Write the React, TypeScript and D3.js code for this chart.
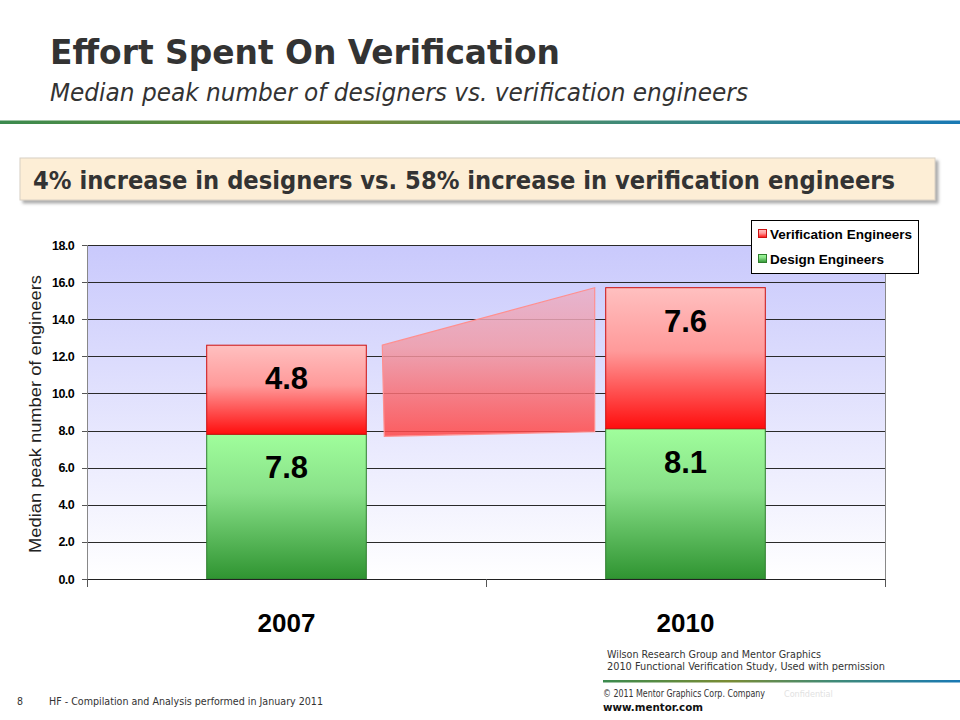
import React from "react";
import * as d3 from "d3";

const years = ["2007", "2010"];
const designEngineers = [7.8, 8.1];
const verificationEngineers = [4.8, 7.6];
const seriesNames = ["Design Engineers", "Verification Engineers"];
const legendOrder = ["Verification Engineers", "Design Engineers"];
const yTickValues = [0, 2, 4, 6, 8, 10, 12, 14, 16, 18];

const W = 960;
const H = 720;
const plot = { left: 87, right: 885, top: 245, bottom: 579 };

export default function App() {
  const x = d3.scaleBand<string>().domain(years).range([plot.left, plot.right]).paddingInner(0).paddingOuter(0);
  const y = d3.scaleLinear().domain([0, 18]).range([plot.bottom, plot.top]);
  const bw = x.bandwidth() * 0.4;
  const barX = (yr: string) => (x(yr) as number) + x.bandwidth() * 0.3;

  const table = years.map((yr, i) => ({
    year: yr,
    "Design Engineers": designEngineers[i],
    "Verification Engineers": verificationEngineers[i],
  }));
  const stacked = d3.stack<any>().keys(seriesNames)(table);

  const fillFor: Record<string, string> = {
    "Design Engineers": "url(#gGreen)",
    "Verification Engineers": "url(#gRed)",
  };
  const strokeFor: Record<string, string> = {
    "Design Engineers": "#2e7d2e",
    "Verification Engineers": "#cc1111",
  };

  // connector shape between bar totals
  const tot = years.map((_, i) => designEngineers[i] + verificationEngineers[i]);
  const ax0 = barX(years[0]) + bw + 16;
  const ax1 = barX(years[1]) - 11;
  const arrowPts: [number, number][] = [
    [ax0, y(tot[0])],
    [ax1, y(tot[1])],
    [ax1, y(designEngineers[1]) + 3],
    [ax0 + 2, y(designEngineers[0]) + 2],
  ];
  const arrowPath = d3.line()(arrowPts)! + "Z";

  const tickFont = "'Liberation Sans', Arial, sans-serif";
  const condFont = "'DejaVu Sans Condensed','DejaVu Sans',sans-serif";

  return (
    <svg width={W} height={H} style={{ position: "absolute", left: 0, top: 0, background: "#fff" }}>
      <defs>
        <linearGradient id="gSep" x1="0" x2="1" y1="0" y2="0">
          <stop offset="0" stopColor="#3b8a4e" />
          <stop offset="0.35" stopColor="#7a8c34" />
          <stop offset="0.65" stopColor="#3f8a78" />
          <stop offset="1" stopColor="#1979b4" />
        </linearGradient>
        <linearGradient id="gPlot" x1="0" x2="0" y1="0" y2="1">
          <stop offset="0" stopColor="#c9c9fc" />
          <stop offset="1" stopColor="#ffffff" />
        </linearGradient>
        <linearGradient id="gRed" x1="0" x2="0" y1="0" y2="1">
          <stop offset="0" stopColor="#ffc0c0" />
          <stop offset="0.45" stopColor="#ff9a9a" />
          <stop offset="1" stopColor="#ff0d0d" />
        </linearGradient>
        <linearGradient id="gGreen" x1="0" x2="0" y1="0" y2="1">
          <stop offset="0" stopColor="#a0fe9c" />
          <stop offset="0.4" stopColor="#88e088" />
          <stop offset="1" stopColor="#2f9431" />
        </linearGradient>
        <linearGradient id="gArrow" x1="0" x2="0" y1="0" y2="1">
          <stop offset="0" stopColor="#eab0c8" />
          <stop offset="0.4" stopColor="#f09aa6" />
          <stop offset="1" stopColor="#ff4444" />
        </linearGradient>
        <filter id="shadow" x="-5%" y="-20%" width="110%" height="150%">
          <feDropShadow dx="3" dy="3" stdDeviation="1.5" floodColor="#888" floodOpacity="0.7" />
        </filter>
      </defs>

      {/* Header */}
      <text x={50} y={64} fontFamily={condFont} fontWeight="bold" fontSize={34} fill="#333" textLength={510} lengthAdjust="spacingAndGlyphs">
        Effort Spent On Verification
      </text>
      <text x={50} y={101} fontFamily={condFont} fontStyle="italic" fontSize={25} fill="#333" textLength={698} lengthAdjust="spacingAndGlyphs">
        Median peak number of designers vs. verification engineers
      </text>
      <rect x={0} y={120.5} width={W} height={3.5} fill="url(#gSep)" />

      {/* Callout */}
      <rect x={20} y={158} width={915} height={42} fill="#fdeed6" stroke="#d8d0c4" strokeWidth={1} filter="url(#shadow)" />
      <text x={33} y={189} fontFamily={condFont} fontWeight="bold" fontSize={24} fill="#333" textLength={862} lengthAdjust="spacingAndGlyphs">
        4% increase in designers vs. 58% increase in verification engineers
      </text>

      {/* Plot background */}
      <rect x={plot.left} y={plot.top} width={plot.right - plot.left} height={plot.bottom - plot.top} fill="url(#gPlot)" />
      {yTickValues.filter((v) => v > 0).map((v) => (
        <line key={"g" + v} x1={plot.left} x2={plot.right} y1={Math.round(y(v)) + 0.5} y2={Math.round(y(v)) + 0.5} stroke="#2a2a2a" strokeWidth={1} />
      ))}
      <line x1={plot.right + 0.5} x2={plot.right + 0.5} y1={plot.top} y2={plot.bottom} stroke="#888" />

      {/* y axis */}
      <line x1={plot.left + 0.5} x2={plot.left + 0.5} y1={plot.top} y2={plot.bottom + 8} stroke="#888" />
      {yTickValues.map((v) => (
        <g key={"t" + v}>
          <line x1={plot.left - 5} x2={plot.left} y1={Math.round(y(v)) + 0.5} y2={Math.round(y(v)) + 0.5} stroke="#555" />
          <text x={74} y={y(v) + 4.5} textAnchor="end" fontFamily={tickFont} fontWeight="bold" fontSize={12.5} letterSpacing={-0.6} fill="#000">
            {d3.format(".1f")(v)}
          </text>
        </g>
      ))}
      <text transform={`translate(41, ${(plot.top + plot.bottom) / 2 + 2}) rotate(-90)`} textAnchor="middle" fontFamily={tickFont} fontSize={16} fill="#222" textLength={278} lengthAdjust="spacingAndGlyphs">
        Median peak number of engineers
      </text>

      {/* connector */}
      <path d={arrowPath} fill="url(#gArrow)" fillOpacity={0.85} stroke="#ff8f8f" strokeWidth={1.2} />

      {/* bars */}
      {stacked.map((s) =>
        s.map((d, i) => (
          <rect
            key={s.key + i}
            x={barX(years[i])}
            y={y(d[1])}
            width={bw}
            height={y(d[0]) - y(d[1])}
            fill={fillFor[s.key]}
            stroke={strokeFor[s.key]}
            strokeWidth={1}
          />
        ))
      )}
      {/* x axis */}
      <line x1={plot.left} x2={plot.right + 1} y1={plot.bottom + 0.5} y2={plot.bottom + 0.5} stroke="#222" />
      {[plot.left, ...years.slice(1).map((yr) => x(yr) as number), plot.right].map((px, i) => (
        <line key={"xt" + i} x1={px + 0.5} x2={px + 0.5} y1={plot.bottom} y2={plot.bottom + 8} stroke="#555" />
      ))}
      {stacked.map((s) =>
        s.map((d, i) => (
          <text key={"l" + s.key + i} x={barX(years[i]) + bw / 2} y={y(d[1]) + 44} textAnchor="middle" fontFamily={tickFont} fontWeight="bold" fontSize={31} fill="#000">
            {d3.format(".1f")(d[1] - d[0])}
          </text>
        ))
      )}
      {years.map((yr) => (
        <text key={"yr" + yr} x={(x(yr) as number) + x.bandwidth() / 2} y={632} textAnchor="middle" fontFamily={tickFont} fontWeight="bold" fontSize={26} fill="#000">
          {yr}
        </text>
      ))}

      {/* legend */}
      <rect x={751.5} y={220.5} width={167} height={53} fill="#fff" stroke="#000" />
      {legendOrder.map((name, i) => (
        <g key={name}>
          <rect x={758.5} y={229.5 + i * 25} width={8} height={8} fill={fillFor[name]} stroke={strokeFor[name]} />
          <text x={770} y={239 + i * 25} fontFamily={tickFont} fontWeight="bold" fontSize={13} fill="#000" textLength={name === "Verification Engineers" ? 142 : 114} lengthAdjust="spacingAndGlyphs">
            {name}
          </text>
        </g>
      ))}

      {/* footer */}
      <text x={607} y={658} fontFamily={condFont} fontSize={10.5} fill="#333" textLength={214} lengthAdjust="spacingAndGlyphs">
        Wilson Research Group and Mentor Graphics
      </text>
      <text x={607} y={670} fontFamily={condFont} fontSize={10.5} fill="#333" textLength={278} lengthAdjust="spacingAndGlyphs">
        2010 Functional Verification Study,  Used with permission
      </text>
      <rect x={603} y={680} width={W - 603} height={2.5} fill="url(#gSep)" />
      <text x={603} y={697} fontFamily={condFont} fontSize={10} fill="#333" textLength={162} lengthAdjust="spacingAndGlyphs">
        © 2011 Mentor Graphics Corp. Company
      </text>
      <text x={784} y={697} fontFamily={condFont} fontSize={9} fill="#e2e2e2">
        Confidential
      </text>
      <text x={603} y={711} fontFamily={condFont} fontWeight="bold" fontSize={11} fill="#111" textLength={100} lengthAdjust="spacingAndGlyphs">
        www.mentor.com
      </text>
      <text x={17} y={705} fontFamily={condFont} fontSize={10.5} fill="#333">
        8
      </text>
      <text x={49} y={705} fontFamily={condFont} fontSize={10.5} fill="#333" textLength={274} lengthAdjust="spacingAndGlyphs">
        HF - Compilation and Analysis performed in January 2011
      </text>
    </svg>
  );
}
